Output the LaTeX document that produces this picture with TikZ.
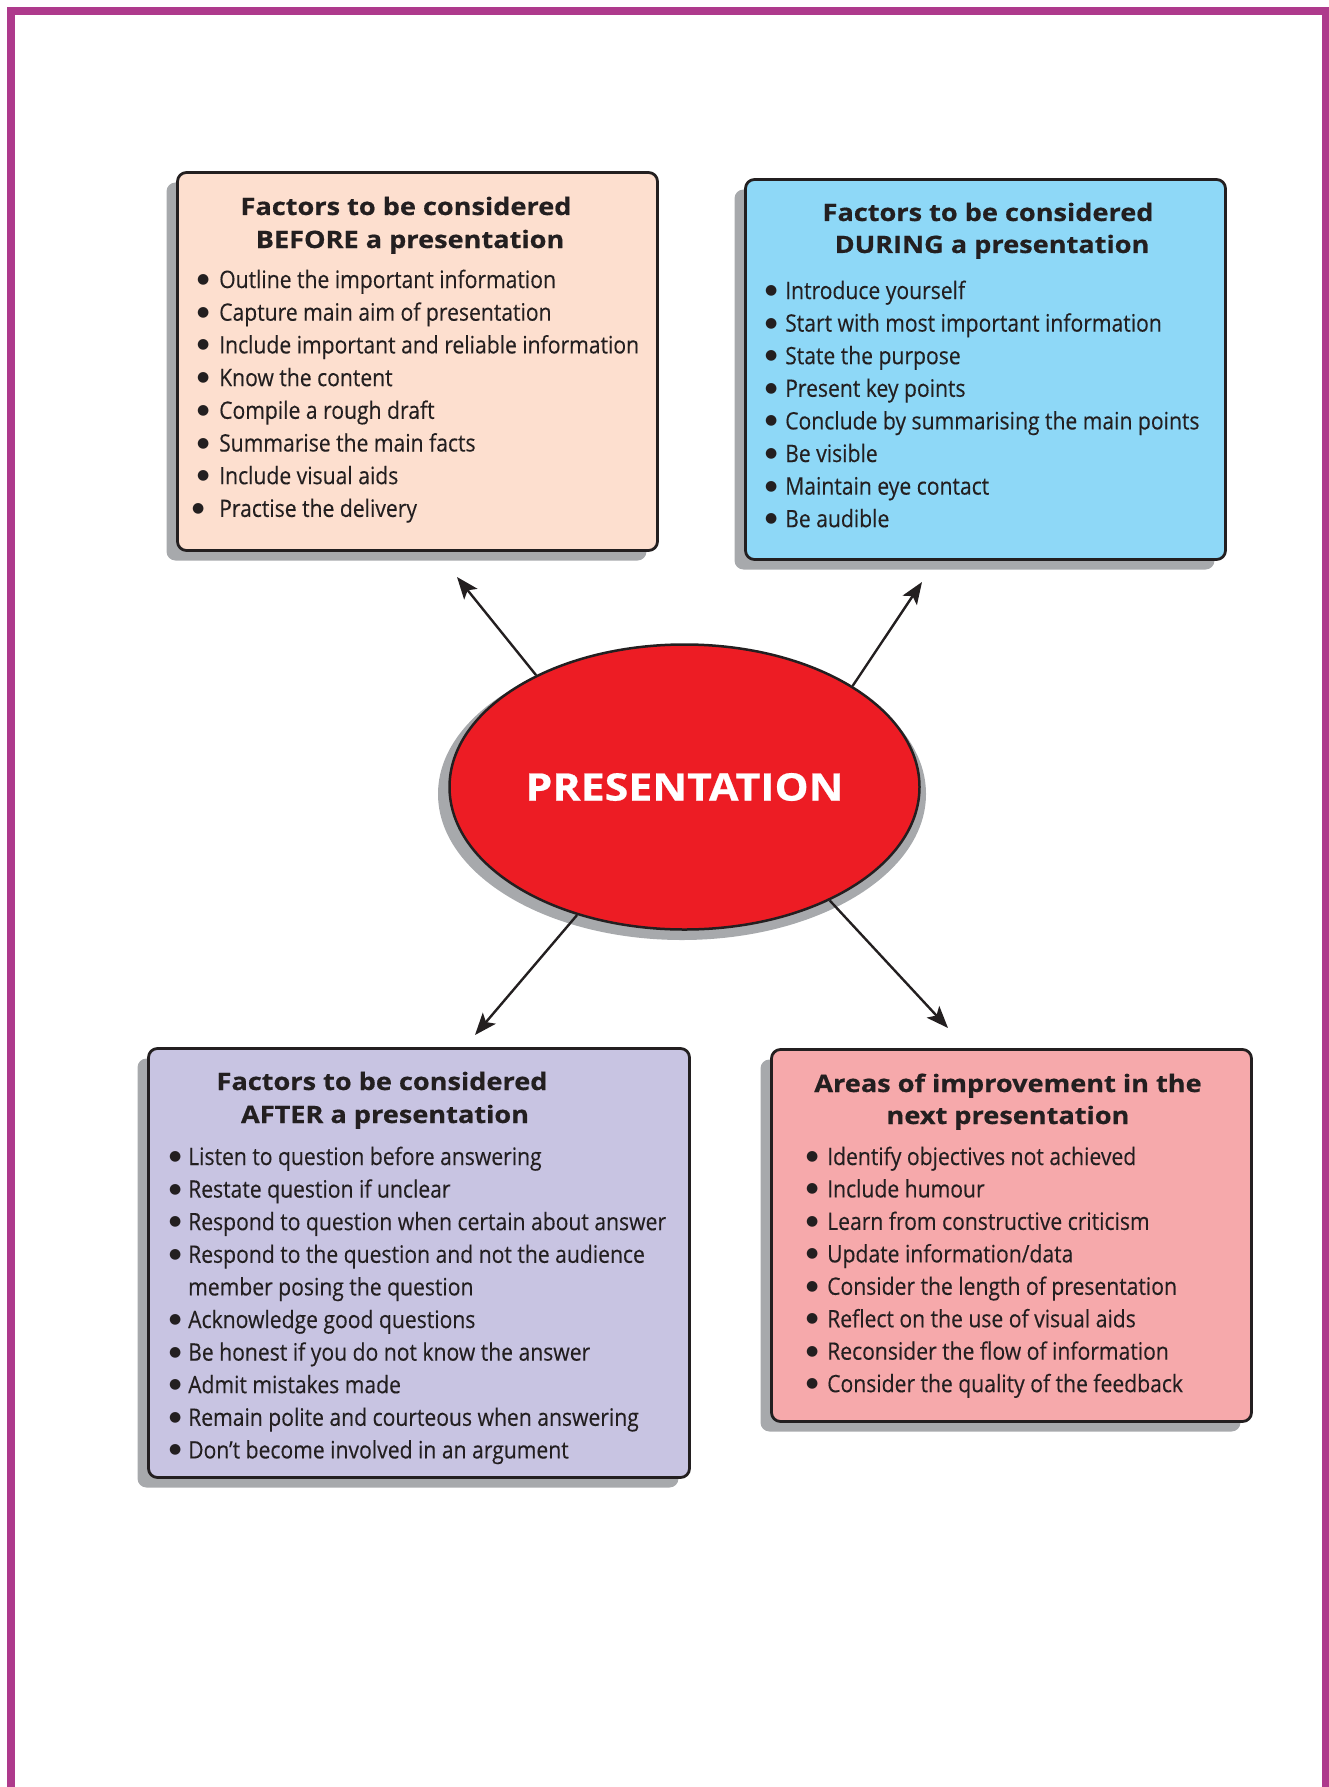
\documentclass[tikz,border=0pt]{standalone}
\usepackage{fontspec}
\setmainfont{Open Sans}
\newfontfamily\itemfont[FakeStretch=0.88, FakeBold=0.25]{Open Sans}
\newfontfamily\headfont[FakeStretch=1.13, FakeBold=0.6]{Open Sans}
\newfontfamily\dotfont{DejaVu Sans}
\usetikzlibrary{shapes.geometric,arrows.meta,shadows}

\definecolor{framepurple}{RGB}{174,58,140}
\definecolor{peach}{RGB}{253,223,207}
\definecolor{skyblue}{RGB}{142,216,247}
\definecolor{lavender}{RGB}{200,196,226}
\definecolor{rosepink}{RGB}{246,169,171}
\definecolor{shadowgrey}{RGB}{167,169,172}
\definecolor{ink}{RGB}{35,31,32}
\definecolor{hotred}{RGB}{237,28,36}

% a round bullet centred on the current point, then a gap of #1
\newcommand\itemdot[1]{\makebox[0pt]{\raisebox{4.5pt}{\dotfont\fontsize{14}{16}\selectfont ●}}\hspace*{#1}}

\tikzset{
  panel/.style={draw=ink, line width=2.8pt, rounded corners=9pt, inner sep=0pt,
    anchor=center,
    drop shadow={shadow xshift=-11pt, shadow yshift=-10pt, opacity=1, fill=shadowgrey}},
  heading/.style={font=\headfont\bfseries\fontsize{24}{28}\selectfont, text=ink, anchor=base, inner sep=0pt},
  entry/.style={font=\itemfont\fontsize{24}{30}\selectfont, text=ink, anchor=base west, inner sep=0pt},
  link/.style={draw=ink, line width=2.4pt, -{Stealth[length=22pt, width=17pt, inset=5pt]}},
}

\begin{document}
\begin{tikzpicture}[x=1pt, y=-1pt]
\useasboundingbox (0,0) rectangle (1329,1787);

% outer frame, open at the foot of the page
\draw[framepurple, line width=8pt] (11,1790) -- (11,11) -- (1326,11) -- (1326,1790);

% ---- BEFORE panel ----
\node[panel, fill=peach, minimum width=480pt, minimum height=378pt] (before) at (417.5,361.5) {};
\node[heading] (before-h1) at (406,215) {Factors to be considered};
\node[heading] (before-h2) at (410,248) {BEFORE a presentation};
\foreach \t [count=\i] in {Outline the important information,
  Capture main aim of presentation,
  Include important and reliable information,
  Know the content,
  Compile a rough draft,
  Summarise the main facts,
  Include visual aids}
  \node[entry] (before-\i) at (203,{288+(\i-1)*32.7}) {\itemdot{16pt}\t};
\node[entry] (before-8) at (198,{288+7*32.7}) {\itemdot{21pt}Practise the delivery};

% ---- DURING panel ----
\node[panel, fill=skyblue, minimum width=480pt, minimum height=380pt] (during) at (985.5,369.5) {};
\node[heading] (during-h1) at (988,221) {Factors to be considered};
\node[heading] (during-h2) at (992,253) {DURING a presentation};
\foreach \t [count=\i] in {Introduce yourself,
  Start with most important information,
  State the purpose,
  Present key points,
  Conclude by summarising the main points,
  Be visible,
  Maintain eye contact,
  Be audible}
  \node[entry] (during-\i) at (771,{299+(\i-1)*32.6}) {\itemdot{14pt}\t};

% ---- AFTER panel ----
\node[panel, fill=lavender, minimum width=541pt, minimum height=429pt] (after) at (419,1263) {};
\node[heading] (after-h1) at (382,1090) {Factors to be considered};
\node[heading] (after-h2) at (385,1123) {AFTER a presentation};
\foreach \t [count=\i] in {Listen to question before answering,
  Restate question if unclear,
  Respond to question when certain about answer,
  Respond to the question and not the audience}
  \node[entry] (after-\i) at (175,{1165+(\i-1)*32.6}) {\itemdot{13pt}\t};
\node[entry] (after-5) at (188,{1165+4*32.6}) {member posing the question};
\foreach \t [count=\i from 6] in {Acknowledge good questions,
  Be honest if you do not know the answer,
  Admit mistakes made,
  Remain polite and courteous when answering,
  Don’t become involved in an argument}
  \node[entry] (after-\i) at (175,{1165+(\i-1)*32.6}) {\itemdot{13pt}\t};

% ---- improvement panel ----
\node[panel, fill=rosepink, minimum width=480pt, minimum height=372pt] (improve) at (1011.5,1235.5) {};
\node[heading] (improve-h1) at (1008,1092) {Areas of improvement in the};
\node[heading] (improve-h2) at (1008,1124) {next presentation};
\foreach \t [count=\i] in {Identify objectives not achieved,
  Include humour,
  Learn from constructive criticism,
  Update information/data,
  Consider the length of presentation,
  Reflect on the use of visual aids,
  Reconsider the flow of information,
  Consider the quality of the feedback}
  \node[entry] (improve-\i) at (812,{1165+(\i-1)*32.45}) {\itemdot{15pt}\t};

% ---- central ellipse ----
\fill[shadowgrey] (682,794) ellipse [x radius=244pt, y radius=146pt];
\node[ellipse, draw=ink, line width=2.5pt, fill=hotred, inner sep=0pt,
      minimum width=470pt, minimum height=285pt,
      text=white, font=\headfont\bfseries\fontsize{44}{50}\selectfont] (pres) at (684.5,787) {\resizebox{318pt}{!}{PRESENTATION}};

% ---- arrows ----
\coordinate (tip-before)  at (457,577);
\coordinate (tip-during)  at (922,582);
\coordinate (tip-after)   at (475,1035);
\coordinate (tip-improve) at (948,1028);
\draw[link] (pres.143.5) -- (tip-before);
\draw[link] (pres.31.8)  -- (tip-during);
\draw[link] (pres.230.1) -- (tip-after);
\draw[link] (pres.322.3) -- (tip-improve);
\end{tikzpicture}
\end{document}
